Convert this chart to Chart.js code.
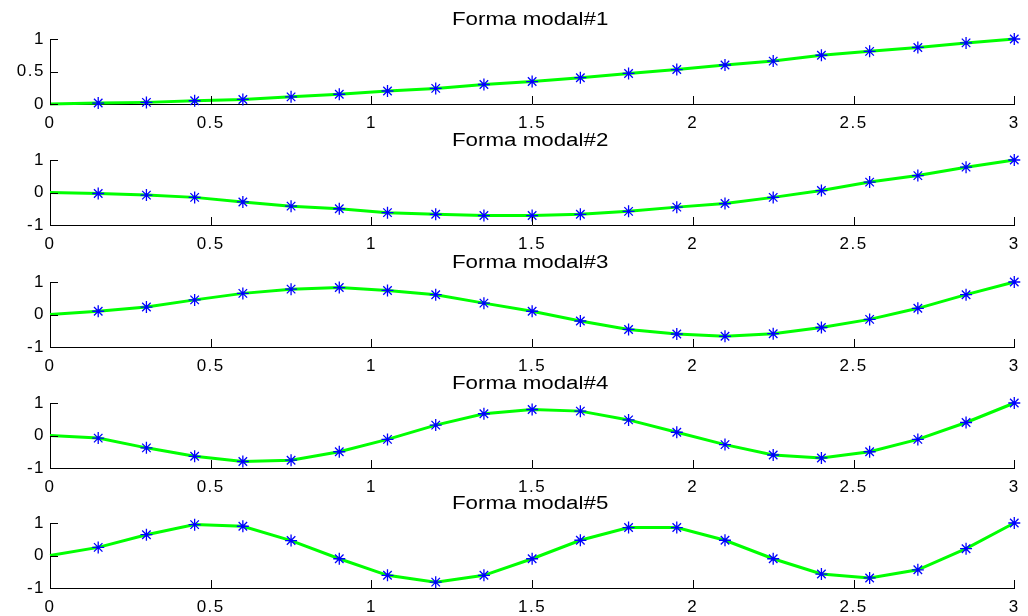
<!DOCTYPE html>
<html>
<head>
<meta charset="utf-8">
<title>Formas modales</title>
<script src="https://cdn.jsdelivr.net/npm/chart.js@4.4.1/dist/chart.umd.min.js"></script>
<style>
    html, body { margin: 0; padding: 0; background: #fff; }
    body { width: 1028px; height: 616px; position: relative; overflow: hidden; }
    canvas { position: absolute; left: 0; }
</style>
</head>
<body>
<canvas id="mode1" width="1028" height="120" style="top:9px"></canvas>
<canvas id="mode2" width="1028" height="120" style="top:130px"></canvas>
<canvas id="mode3" width="1028" height="120" style="top:252px"></canvas>
<canvas id="mode4" width="1028" height="120" style="top:373px"></canvas>
<canvas id="mode5" width="1028" height="120" style="top:493px"></canvas>
<script>
// node positions along the beam
const xNodes = [0, 0.15, 0.3, 0.45, 0.6, 0.75, 0.9, 1.05, 1.2, 1.35, 1.5,
                1.65, 1.8, 1.95, 2.1, 2.25, 2.4, 2.55, 2.7, 2.85, 3];

// normalized mode shapes
const mode1 = [0, 0.015, 0.025, 0.05, 0.07, 0.11, 0.15, 0.20, 0.24, 0.30, 0.345,
               0.405, 0.47, 0.53, 0.60, 0.66, 0.75, 0.81, 0.87, 0.94, 1.0];
const mode2 = [0, -0.03, -0.08, -0.15, -0.29, -0.42, -0.50, -0.62, -0.67, -0.71, -0.71,
               -0.67, -0.58, -0.45, -0.34, -0.15, 0.06, 0.32, 0.52, 0.78, 1.0];
const mode3 = [0, 0.10, 0.23, 0.45, 0.65, 0.78, 0.83, 0.74, 0.61, 0.35, 0.10,
               -0.20, -0.46, -0.60, -0.67, -0.59, -0.40, -0.15, 0.19, 0.61, 1.0];
const mode4 = [0, -0.08, -0.38, -0.64, -0.80, -0.76, -0.50, -0.12, 0.32, 0.67, 0.80,
               0.75, 0.48, 0.10, -0.28, -0.60, -0.69, -0.50, -0.12, 0.40, 1.0];
const mode5 = [0, 0.25, 0.64, 0.95, 0.90, 0.46, -0.10, -0.61, -0.82, -0.61, -0.10,
               0.47, 0.86, 0.86, 0.47, -0.10, -0.57, -0.69, -0.44, 0.21, 1.0];

const titles = ['Forma modal#1', 'Forma modal#2', 'Forma modal#3', 'Forma modal#4', 'Forma modal#5'];

const xTicks = [0, 0.5, 1, 1.5, 2, 2.5, 3];
const xTickLabels = ['0', '0.5', '1', '1.5', '2', '2.5', '3'];
const yTicksFirst = [0, 0.5, 1];
const yTickLabelsFirst = ['0', '0.5', '1'];
const yTicksOther = [-1, 0, 1];
const yTickLabelsOther = ['-1', '0', '1'];

const FONT = '"Liberation Sans", Arial, sans-serif';
Chart.defaults.font.family = FONT;
Chart.defaults.font.size = 17;
Chart.defaults.color = '#000';

// MATLAB style: ticks pointing into the axes, title above the box
const matlabAxes = {
    id: 'matlabAxes',
    beforeDraw(chart) {
        // the original figure has wide, stretched lettering
        chart.ctx.letterSpacing = '1.5px';
    },
    afterDraw(chart, args, opts) {
        const ctx = chart.ctx;
        const area = chart.chartArea;
        const xs = chart.scales.x, ys = chart.scales.y;
        ctx.save();
        ctx.letterSpacing = '0px';
        ctx.strokeStyle = '#000';
        ctx.lineWidth = 1;
        ctx.beginPath();
        xTicks.forEach(v => {
            const px = Math.round(xs.getPixelForValue(v)) + 0.5;
            ctx.moveTo(px, area.bottom);
            ctx.lineTo(px, area.bottom - 8);
        });
        opts.yTicks.forEach(v => {
            const py = Math.round(ys.getPixelForValue(v)) + 0.5;
            ctx.moveTo(area.left, py);
            ctx.lineTo(area.left + 8, py);
        });
        ctx.stroke();

        // title, horizontally stretched like the source figure
        ctx.translate((area.left + area.right) / 2 - 2, area.top - 14);
        ctx.scale(1.24, 1);
        ctx.fillStyle = '#000';
        ctx.font = '18px ' + FONT;
        ctx.textAlign = 'center';
        ctx.textBaseline = 'alphabetic';
        ctx.fillText(opts.text, 0, 0);
        ctx.restore();
    }
};

function makeModeChart(id, values, title, yTicks, yLabels) {
    const ctx = document.getElementById(id).getContext('2d');
    return new Chart(ctx, {
        type: 'line',
        data: {
            datasets: [{
                data: xNodes.map((x, i) => ({ x: x, y: values[i] })),
                borderColor: '#00ff00',
                borderWidth: 3,
                tension: 0,
                fill: false,
                clip: false,
                pointStyle: 'star',
                pointRadius: c => c.dataIndex === 0 ? 0 : 6,
                pointBorderColor: '#0000ff',
                pointBackgroundColor: '#0000ff',
                pointBorderWidth: 1.3
            }]
        },
        options: {
            responsive: false,
            animation: false,
            layout: { padding: { top: 30, right: 11, left: 0, bottom: 0 } },
            scales: {
                x: {
                    type: 'linear',
                    min: 0,
                    max: 3,
                    afterFit: s => { s.height = 25; },
                    afterBuildTicks: s => { s.ticks = xTicks.map(v => ({ value: v })); },
                    grid: { display: false, drawTicks: false },
                    border: { display: true, color: '#000', width: 1 },
                    ticks: {
                        padding: 9,
                        maxRotation: 0,
                        autoSkip: false,
                        callback: (v, i) => xTickLabels[i]
                    }
                },
                y: {
                    type: 'linear',
                    min: yTicks[0],
                    max: yTicks[yTicks.length - 1],
                    afterFit: s => { s.width = 50; },
                    afterBuildTicks: s => { s.ticks = yTicks.map(v => ({ value: v })); },
                    grid: { display: false, drawTicks: false },
                    border: { display: true, color: '#000', width: 1 },
                    ticks: {
                        padding: 5,
                        autoSkip: false,
                        callback: (v, i) => yLabels[i]
                    }
                }
            },
            plugins: {
                legend: { display: false },
                tooltip: { enabled: false },
                matlabAxes: { text: title, yTicks: yTicks }
            }
        },
        plugins: [matlabAxes]
    });
}

document.addEventListener('DOMContentLoaded', function() {
    makeModeChart('mode1', mode1, titles[0], yTicksFirst, yTickLabelsFirst);
    makeModeChart('mode2', mode2, titles[1], yTicksOther, yTickLabelsOther);
    makeModeChart('mode3', mode3, titles[2], yTicksOther, yTickLabelsOther);
    makeModeChart('mode4', mode4, titles[3], yTicksOther, yTickLabelsOther);
    makeModeChart('mode5', mode5, titles[4], yTicksOther, yTickLabelsOther);
});
</script>
</body>
</html>
